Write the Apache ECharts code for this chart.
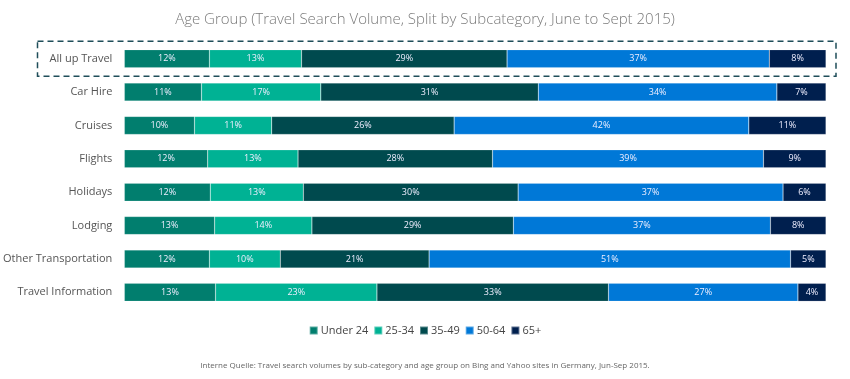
<!DOCTYPE html>
<html><head><meta charset="utf-8">
<script src="https://cdn.jsdelivr.net/npm/echarts@6/dist/echarts.min.js"></script>
<style>html,body{margin:0;padding:0;background:#fff}#c{width:850px;height:379px}</style>
</head><body><div id="c"></div>
<script>
const categories = ["All up Travel","Car Hire","Cruises","Flights","Holidays","Lodging","Other Transportation","Travel Information"];
const seriesNames = ["Under 24","25-34","35-49","50-64","65+"];
const under24 = [12,11,10,12,12,13,12,13];
const age25to34 = [13,17,11,13,13,14,10,23];
const age35to49 = [29,31,26,28,30,29,21,33];
const age50to64 = [37,34,42,39,37,37,51,27];
const age65plus = [8,7,11,9,6,8,5,4];
const colors = ["#017E6E","#00B294","#004A4E","#0078D7","#001F4E"];
const titleText = "Age Group (Travel Search Volume, Split by Subcategory, June to Sept 2015)";
const footText = "Interne Quelle: Travel search volumes by sub-category and age group on Bing and Yahoo sites in Germany, Jun-Sep 2015.";

const all = [under24, age25to34, age35to49, age50to64, age65plus];
const rowSum = categories.map((c,i)=>all.reduce((s,a)=>s+a[i],0));

const chart = echarts.init(document.getElementById('c'));
const option = {
  animation:false,
  color: colors,
  title:{text:titleText,left:'center',top:7,textStyle:{fontFamily:'Open Sans',fontSize:15,fontWeight:300,color:'#7a7a7a'}},
  grid:{left:124,right:24,top:42,bottom:70,containLabel:false},
  legend:{bottom:38,left:'center',itemWidth:8,itemHeight:8,itemGap:5,icon:'rect',
    textStyle:{fontFamily:'Open Sans',fontSize:11,color:'#444',padding:[0,0,0,-2]}},
  xAxis:{type:'value',min:0,max:100,show:false},
  yAxis:{type:'category',data:categories,inverse:true,axisLine:{show:false},axisTick:{show:false},
    axisLabel:{fontFamily:'Open Sans',fontSize:11,color:'#555',margin:12}},
  series: all.map((arr,k)=>({
    name:seriesNames[k],type:'bar',stack:'t',barWidth:18,
    data:arr.map((v,i)=>({value:v/rowSum[i]*100,raw:v})),
    itemStyle:{borderColor:'rgba(255,255,255,0.35)',borderWidth:0.5},
    label:{show:true,position:'inside',fontFamily:'Open Sans',fontSize:9,color:'#eef',
      formatter:p=>p.data.raw+'%'}
  }))
};
chart.setOption(option);
const p0 = chart.convertToPixel({gridIndex:0},[0,categories[0]]);
const p1 = chart.convertToPixel({gridIndex:0},[100,categories[0]]);
chart.setOption({graphic:[
  {type:'text',left:'center',top:362,style:{text:footText,font:'8px "Open Sans"',fill:'#666'}},
  {type:'rect',shape:{x:37.5,y:p0[1]-17.5,width:(p1[0]+10)-37.5,height:35},
   style:{fill:'none',stroke:'#1F4E5A',lineWidth:1.5,lineDash:[6,4]},z:10}
]});
</script></body></html>
